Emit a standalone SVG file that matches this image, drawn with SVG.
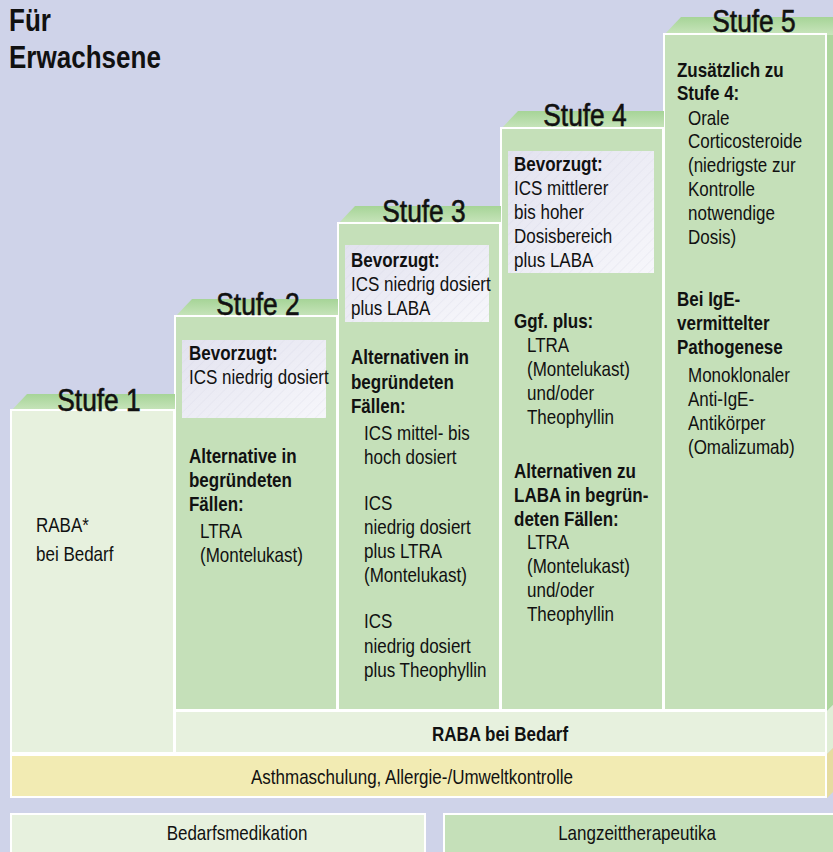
<svg xmlns="http://www.w3.org/2000/svg" width="833" height="852" viewBox="0 0 833 852">
<defs>
<linearGradient id="topg" x1="0" y1="0" x2="0" y2="1">
<stop offset="0" stop-color="#a6d497"/>
<stop offset="1" stop-color="#c9e5bd"/>
</linearGradient>
<linearGradient id="prefg" x1="0" y1="0" x2="1" y2="1">
<stop offset="0" stop-color="#e2e2ef"/>
<stop offset="1" stop-color="#f7f7fb"/>
</linearGradient>
<pattern id="hatch" width="7" height="7" patternUnits="userSpaceOnUse" patternTransform="rotate(45)">
<line x1="0" y1="0" x2="0" y2="7" stroke="#d4d4e4" stroke-width="0.7" stroke-opacity="0.7"/>
</pattern>
<style>
text{font-family:"Liberation Sans",Arial,sans-serif;fill:#111;}
.b{font-weight:bold;}
.t{font-size:20px;}
.h{font-size:31px;text-anchor:middle;stroke:#111;stroke-width:0.6;}
.c{text-anchor:middle;}
.col{stroke:#fff;stroke-width:2;}
.lg{fill:#e7f1de;}
.mg{fill:#c5e0b9;}
.yl{fill:#f2ebb3;}
.top{fill:url(#topg);}
.pref{fill:url(#prefg);}
.hat{fill:url(#hatch);}
</style>
</defs>
<rect width="833" height="852" fill="#cfd3e9"/>
<g id="title">
<g transform="scale(0.84,1)">
<text x="10.71" y="31" class="b" style="font-size:31px">Für</text>
<text x="10.71" y="68" class="b" style="font-size:31px">Erwachsene</text>
</g>
</g>
<g id="side">
<polygon points="827,30 833,24 833,705 827,711" fill="#aed69e"/>
<polygon points="827,711 833,705 833,748 827,754" fill="#e0eed6"/>
<polygon points="827,754 833,748 833,792 827,798" fill="#e6dca0"/>
</g>
<g id="stufe5">
<polygon class="top" points="664,35 681,17 833,17 833,35"/>
<rect class="col mg" x="664" y="34" width="162" height="676"/>
<g transform="scale(0.85,1)">
<text class="h" x="887.06" y="32">Stufe 5</text>
<text class="t b" x="796.47" y="77">Zusätzlich zu</text>
<text class="t b" x="796.47" y="100">Stufe 4:</text>
<text class="t" x="809.41" y="125">Orale</text>
<text class="t" x="809.41" y="148">Corticosteroide</text>
<text class="t" x="809.41" y="172">(niedrigste zur</text>
<text class="t" x="809.41" y="196">Kontrolle</text>
<text class="t" x="809.41" y="220">notwendige</text>
<text class="t" x="809.41" y="244">Dosis)</text>
<text class="t b" x="796.47" y="306">Bei IgE-</text>
<text class="t b" x="796.47" y="330">vermittelter</text>
<text class="t b" x="796.47" y="354">Pathogenese</text>
<text class="t" x="809.41" y="382">Monoklonaler</text>
<text class="t" x="809.41" y="406">Anti-IgE-</text>
<text class="t" x="809.41" y="430">Antikörper</text>
<text class="t" x="809.41" y="454">(Omalizumab)</text>
</g>
</g>
<g id="stufe4">
<polygon class="top" points="501,129 518,111 664,111 664,129"/>
<rect class="col mg" x="501" y="128" width="162" height="582"/>
<rect class="pref" x="508" y="151" width="146" height="122"/>
<rect class="hat" x="508" y="151" width="146" height="122"/>
<g transform="scale(0.85,1)">
<text class="h" x="688.24" y="126">Stufe 4</text>
<text class="t b" x="604.71" y="171">Bevorzugt:</text>
<text class="t" x="604.71" y="195">ICS mittlerer</text>
<text class="t" x="604.71" y="219">bis hoher</text>
<text class="t" x="604.71" y="243">Dosisbereich</text>
<text class="t" x="604.71" y="267">plus LABA</text>
<text class="t b" x="604.71" y="328">Ggf. plus:</text>
<text class="t" x="620" y="352">LTRA</text>
<text class="t" x="620" y="376">(Montelukast)</text>
<text class="t" x="620" y="400">und/oder</text>
<text class="t" x="620" y="424">Theophyllin</text>
<text class="t b" x="604.71" y="478">Alternativen zu</text>
<text class="t b" x="604.71" y="502">LABA in begrün-</text>
<text class="t b" x="604.71" y="526">deten Fällen:</text>
<text class="t" x="620" y="549">LTRA</text>
<text class="t" x="620" y="573">(Montelukast)</text>
<text class="t" x="620" y="597">und/oder</text>
<text class="t" x="620" y="621">Theophyllin</text>
</g>
</g>
<g id="stufe3">
<polygon class="top" points="338,224 355,206 501,206 501,224"/>
<rect class="col mg" x="338" y="223" width="162" height="487"/>
<rect class="pref" x="345" y="245" width="144" height="77"/>
<rect class="hat" x="345" y="245" width="144" height="77"/>
<g transform="scale(0.85,1)">
<text class="h" x="498.82" y="222">Stufe 3</text>
<text class="t b" x="412.94" y="267">Bevorzugt:</text>
<text class="t" x="412.94" y="291">ICS niedrig dosiert</text>
<text class="t" x="412.94" y="315">plus LABA</text>
<text class="t b" x="412.94" y="364">Alternativen in</text>
<text class="t b" x="412.94" y="389">begründeten</text>
<text class="t b" x="412.94" y="413">Fällen:</text>
<text class="t" x="428.24" y="440">ICS mittel- bis</text>
<text class="t" x="428.24" y="464">hoch dosiert</text>
<text class="t" x="428.24" y="510">ICS</text>
<text class="t" x="428.24" y="534">niedrig dosiert</text>
<text class="t" x="428.24" y="558">plus LTRA</text>
<text class="t" x="428.24" y="582">(Montelukast)</text>
<text class="t" x="428.24" y="628">ICS</text>
<text class="t" x="428.24" y="653">niedrig dosiert</text>
<text class="t" x="428.24" y="677">plus Theophyllin</text>
</g>
</g>
<g id="stufe2">
<polygon class="top" points="175,317 192,299 338,299 338,317"/>
<rect class="col mg" x="175" y="316" width="162" height="394"/>
<rect class="pref" x="182" y="340" width="144" height="78"/>
<rect class="hat" x="182" y="340" width="144" height="78"/>
<g transform="scale(0.85,1)">
<text class="h" x="303.53" y="315">Stufe 2</text>
<text class="t b" x="222.35" y="360">Bevorzugt:</text>
<text class="t" x="222.35" y="384">ICS niedrig dosiert</text>
<text class="t b" x="222.35" y="463">Alternative in</text>
<text class="t b" x="222.35" y="487">begründeten</text>
<text class="t b" x="222.35" y="511">Fällen:</text>
<text class="t" x="235.29" y="538">LTRA</text>
<text class="t" x="235.29" y="562">(Montelukast)</text>
</g>
</g>
<g id="stufe1">
<polygon class="top" points="11,411 27,394 175,394 175,411"/>
<rect class="col lg" x="11" y="410" width="163" height="343"/>
<g transform="scale(0.85,1)">
<text class="h" x="116.47" y="411">Stufe 1</text>
<text class="t" x="42.35" y="532">RABA*</text>
<text class="t" x="42.35" y="561">bei Bedarf</text>
</g>
</g>
<g id="raba">
<rect class="col lg" x="175" y="711" width="651" height="42"/>
<text class="t b c" x="588.24" y="741" transform="scale(0.85,1)">RABA bei Bedarf</text>
</g>
<g id="schulung">
<rect class="col yl" x="11" y="755" width="815" height="42"/>
<text class="t c" x="484.71" y="784" transform="scale(0.85,1)">Asthmaschulung, Allergie-/Umweltkontrolle</text>
</g>
<g id="legend1">
<rect class="col lg" x="11" y="814" width="414" height="42"/>
<text class="t c" x="278.82" y="840" transform="scale(0.85,1)">Bedarfsmedikation</text>
</g>
<g id="legend2">
<rect class="col mg" x="444" y="814" width="392" height="42"/>
<text class="t c" x="749.41" y="840" transform="scale(0.85,1)">Langzeittherapeutika</text>
</g>
</svg>
